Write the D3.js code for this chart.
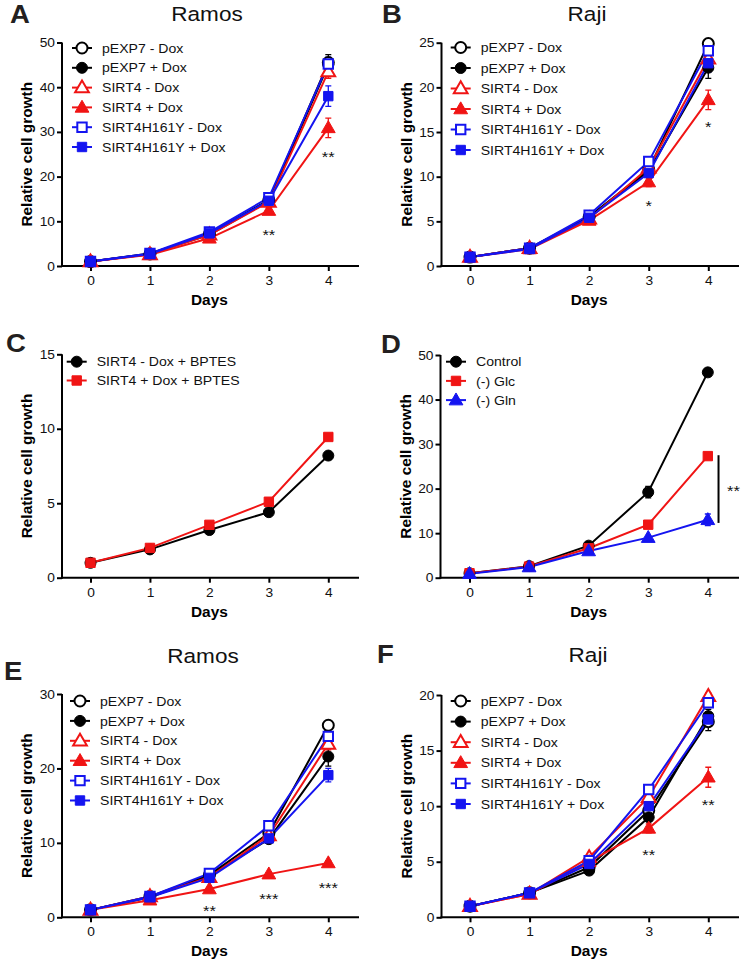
<!DOCTYPE html>
<html><head><meta charset="utf-8">
<script src="https://cdn.jsdelivr.net/npm/d3@7"></script>
<style>
html,body{margin:0;padding:0;background:#fff;}
svg{display:block;font-family:"Liberation Sans",Arial,Helvetica,sans-serif;}
</style></head>
<body>
<svg id="chart" width="741" height="965"></svg>
<script>
// ---------- DATA ----------
const days = [0, 1, 2, 3, 4];
const dayTicks = ["0", "1", "2", "3", "4"];
const seriesNames6 = ["pEXP7 - Dox", "pEXP7 + Dox", "SIRT4 - Dox", "SIRT4 + Dox", "SIRT4H161Y - Dox", "SIRT4H161Y + Dox"];

// Panel A (Ramos)
const A_pEXP7_minus = [1.0, 2.7, 7.2, 14.8, 45.5];
const A_pEXP7_plus  = [1.0, 2.8, 7.0, 14.5, 45.0];
const A_SIRT4_minus = [1.0, 2.6, 7.0, 14.3, 43.5];
const A_SIRT4_plus  = [1.0, 2.5, 6.2, 12.4, 30.9];
const A_H161Y_minus = [1.0, 2.8, 7.6, 15.3, 45.2];
const A_H161Y_plus  = [1.0, 2.7, 7.3, 14.6, 38.0];
const A_err = [[0.2,0.3,0.4,0.5,1.8],[0.2,0.3,0.4,0.5,1.5],[0.3,0.3,0.4,0.5,1.5],[0.2,0.3,0.5,0.6,2.2],[0.2,0.3,0.4,0.6,1.5],[0.2,0.3,0.4,0.5,2.3]];
const A_yTicks = [0, 10, 20, 30, 40, 50];
const A_stars = [{day: 3, y: 7.6, t: "**"}, {day: 4, y: 25.1, t: "**"}];

// Panel B (Raji)
const B_pEXP7_minus = [1.0, 2.0, 5.5, 10.8, 24.9];
const B_pEXP7_plus  = [1.0, 2.0, 5.5, 10.6, 22.2];
const B_SIRT4_minus = [1.0, 2.0, 5.3, 11.0, 23.2];
const B_SIRT4_plus  = [1.0, 1.9, 5.1, 9.4, 18.6];
const B_H161Y_minus = [1.0, 2.0, 5.7, 11.7, 24.1];
const B_H161Y_plus  = [1.0, 1.9, 5.4, 10.4, 22.7];
const B_err = [[0.1,0.1,0.2,0.3,0.2],[0.1,0.1,0.2,0.4,1.2],[0.2,0.1,0.2,0.3,0.5],[0.1,0.1,0.2,0.5,1.1],[0.1,0.1,0.2,0.3,0.4],[0.1,0.1,0.2,0.5,1.0]];
const B_yTicks = [0, 5, 10, 15, 20, 25];
const B_stars = [{day: 3, y: 7.05, t: "*"}, {day: 4, y: 15.9, t: "*"}];

// Panel C
const C_names = ["SIRT4 - Dox + BPTES", "SIRT4 + Dox + BPTES"];
const C_minus = [1.0, 1.9, 3.2, 4.4, 8.2];
const C_plus  = [1.0, 2.0, 3.55, 5.1, 9.45];
const C_err = [[0.05,0.05,0.08,0.1,0.1],[0.05,0.05,0.08,0.1,0.1]];
const C_yTicks = [0, 5, 10, 15];

// Panel D
const D_names = ["Control", "(-) Glc", "(-) Gln"];
const D_control = [1.0, 2.6, 7.2, 19.2, 46.1];
const D_glc     = [1.0, 2.5, 6.6, 11.9, 27.3];
const D_gln     = [0.9, 2.4, 6.0, 9.0, 13.0];
const D_err = [[0.2,0.2,0.4,1.3,0.5],[0.2,0.2,0.3,0.4,0.5],[0.1,0.2,0.3,0.3,1.3]];
const D_yTicks = [0, 10, 20, 30, 40, 50];
const D_bracket = {day: 4.18, y1: 12.3, y2: 27.5, starDay: 4.43, starY: 20.1, t: "**"};

// Panel E (Ramos)
const E_pEXP7_minus = [1.0, 2.8, 5.7, 11.3, 25.8];
const E_pEXP7_plus  = [1.0, 2.7, 5.6, 10.5, 21.6];
const E_SIRT4_minus = [1.0, 2.8, 5.4, 11.0, 23.3];
const E_SIRT4_plus  = [1.0, 2.3, 3.8, 5.8, 7.3];
const E_H161Y_minus = [1.0, 2.8, 5.9, 12.3, 24.3];
const E_H161Y_plus  = [1.0, 2.7, 5.3, 10.6, 19.1];
const E_err = [[0.1,0.2,0.2,0.4,0.3],[0.1,0.2,0.2,0.4,1.3],[0.2,0.2,0.3,0.4,0.8],[0.1,0.2,0.2,0.2,0.3],[0.1,0.2,0.3,0.4,1.3],[0.1,0.2,0.3,0.4,0.9]];
const E_yTicks = [0, 10, 20, 30];
const E_stars = [{day: 2, y: 1.3, t: "**"}, {day: 3, y: 2.9, t: "***"}, {day: 4, y: 4.35, t: "***"}];

// Panel F (Raji)
const F_pEXP7_minus = [1.0, 2.2, 4.5, 9.6, 17.6];
const F_pEXP7_plus  = [1.0, 2.2, 4.2, 9.0, 18.1];
const F_SIRT4_minus = [1.0, 2.1, 5.4, 10.8, 19.9];
const F_SIRT4_plus  = [1.0, 2.1, 5.0, 8.0, 12.6];
const F_H161Y_minus = [1.0, 2.2, 5.1, 11.5, 19.3];
const F_H161Y_plus  = [1.0, 2.2, 4.8, 10.0, 17.8];
const F_err = [[0.1,0.1,0.2,0.3,0.8],[0.1,0.1,0.2,0.3,0.6],[0.2,0.1,0.2,0.3,0.3],[0.1,0.1,0.2,0.4,0.9],[0.1,0.1,0.2,0.3,0.4],[0.1,0.1,0.2,0.6,0.5]];
const F_yTicks = [0, 5, 10, 15, 20];
const F_stars = [{day: 3, y: 5.9, t: "**"}, {day: 4, y: 10.4, t: "**"}];

// ---------- STYLE ----------
const BLACK = "#000000", RED = "#f01414", BLUE = "#1414f0";
const TEXT_STRETCH = 1.1;
const style6 = [
  {color: BLACK, shape: "circle", open: true},
  {color: BLACK, shape: "circle", open: false},
  {color: RED, shape: "triangle", open: true},
  {color: RED, shape: "triangle", open: false},
  {color: BLUE, shape: "square", open: true},
  {color: BLUE, shape: "square", open: false}
];
const styleC = [{color: BLACK, shape: "circle", open: false}, {color: RED, shape: "square", open: false}];
const styleD = [{color: BLACK, shape: "circle", open: false}, {color: RED, shape: "square", open: false}, {color: BLUE, shape: "triangle", open: false}];

function build(names, vals, errs, styles) {
  return names.map((n, i) => ({name: n, values: vals[i], err: errs[i], ...styles[i]}));
}

const panels = [
  {letter: "A", lx: 10, ly: 23, title: "Ramos", tx: 207, ty: 21,
   axX: 62, d0: 90.5, d4: 328.3, xEnd: 359, yBot: 266, yTop: 42.5, yMax: 50, yTicks: A_yTicks,
   series: build(seriesNames6, [A_pEXP7_minus, A_pEXP7_plus, A_SIRT4_minus, A_SIRT4_plus, A_H161Y_minus, A_H161Y_plus], A_err, style6),
   legX: 82, legY: 48, legStep: 19.8, stars: A_stars},
  {letter: "B", lx: 382, ly: 23, title: "Raji", tx: 587, ty: 21,
   axX: 441.5, d0: 470, d4: 708.3, xEnd: 739, yBot: 266, yTop: 42.7, yMax: 25, yTicks: B_yTicks,
   series: build(seriesNames6, [B_pEXP7_minus, B_pEXP7_plus, B_SIRT4_minus, B_SIRT4_plus, B_H161Y_minus, B_H161Y_plus], B_err, style6),
   legX: 460.7, legY: 47.5, legStep: 20.5, stars: B_stars},
  {letter: "C", lx: 6, ly: 352,
   axX: 62, d0: 90.5, d4: 328.3, xEnd: 359, yBot: 577.7, yTop: 354.3, yMax: 15, yTicks: C_yTicks,
   series: build(C_names, [C_minus, C_plus], C_err, styleC),
   legX: 76.7, legY: 361.7, legStep: 18.8, stars: []},
  {letter: "D", lx: 381, ly: 353,
   axX: 440.5, d0: 469.5, d4: 707.8, xEnd: 739, yBot: 577.7, yTop: 355, yMax: 50, yTicks: D_yTicks,
   series: build(D_names, [D_control, D_glc, D_gln], D_err, styleD),
   legX: 456, legY: 361.7, legStep: 19.2, stars: [], bracket: D_bracket},
  {letter: "E", lx: 4, ly: 680, title: "Ramos", tx: 203, ty: 663,
   axX: 62, d0: 90.5, d4: 328.3, xEnd: 359, yBot: 917.3, yTop: 694, yMax: 30, yTicks: E_yTicks,
   series: build(seriesNames6, [E_pEXP7_minus, E_pEXP7_plus, E_SIRT4_minus, E_SIRT4_plus, E_H161Y_minus, E_H161Y_plus], E_err, style6),
   legX: 80, legY: 701, legStep: 19.9, stars: E_stars},
  {letter: "F", lx: 377, ly: 663, title: "Raji", tx: 588, ty: 662,
   axX: 441.5, d0: 470, d4: 708.3, xEnd: 739, yBot: 917.3, yTop: 695, yMax: 20, yTicks: F_yTicks,
   series: build(seriesNames6, [F_pEXP7_minus, F_pEXP7_plus, F_SIRT4_minus, F_SIRT4_plus, F_H161Y_minus, F_H161Y_plus], F_err, style6),
   legX: 460.7, legY: 701, legStep: 20.6, stars: F_stars}
];

const svg = d3.select("#chart");

function symbolFor(shape) {
  if (shape === "circle") return d3.symbol(d3.symbolCircle, 95);
  if (shape === "triangle") return d3.symbol(d3.symbolTriangle, 82);
  return d3.symbol(d3.symbolSquare, 88);
}
function drawMarker(g, s, x, y) {
  const p = g.append("path").attr("d", symbolFor(s.shape)())
    .attr("transform", `translate(${x},${y + (s.shape === "triangle" ? 0.8 : 0)})`)
    .attr("stroke", s.color);
  if (s.open) p.attr("fill", "#fff").attr("stroke-width", 2);
  else p.attr("fill", s.color).attr("stroke-width", 1);
}

panels.forEach(P => {
  const g = svg.append("g");
  const xBase = d3.scaleLinear().domain([0, 4]).range([P.d0, P.d4]);
  const x = d3.scaleLinear().domain([xBase.invert(P.axX), xBase.invert(P.xEnd)]).range([P.axX, P.xEnd]);
  const y = d3.scaleLinear().domain([0, P.yMax]).range([P.yBot, P.yTop]);

  g.append("text").attr("x", P.lx).attr("y", P.ly).text(P.letter)
    .attr("font-size", 25).attr("font-weight", "bold").attr("fill", "#231f20");
  if (P.title) {
    g.append("text").attr("x", P.tx).attr("y", P.ty).attr("text-anchor", "middle")
      .attr("font-size", 20.5).text(P.title).attr("fill", "#111");
  }

  const xa = g.append("g").attr("transform", `translate(0,${P.yBot})`)
    .call(d3.axisBottom(x).tickValues(days).tickFormat((d, i) => dayTicks[i]).tickSize(5).tickSizeOuter(0).tickPadding(5));
  const ya = g.append("g").attr("transform", `translate(${P.axX},0)`)
    .call(d3.axisLeft(y).tickValues(P.yTicks).tickFormat(d3.format("d")).tickSize(5).tickSizeOuter(0).tickPadding(2));
  [xa, ya].forEach(a => {
    a.select(".domain").attr("stroke", "#000").attr("stroke-width", 2);
    a.selectAll(".tick line").attr("stroke", "#000").attr("stroke-width", 2);
    a.selectAll(".tick text").attr("font-size", 12.5).attr("fill", "#111")
      .attr("font-family", "'Liberation Sans',Arial,sans-serif");
  });
  ya.select(".domain").attr("d", `M0,${P.yBot + 1}V${P.yTop}`);
  xa.select(".domain").attr("d", `M${P.axX - 1},0H${P.xEnd}`);

  g.append("text").attr("x", xBase(2)).attr("y", P.yBot + 39).attr("text-anchor", "middle")
    .attr("font-size", 14).attr("font-weight", "bold").text("Days");
  g.append("text")
    .attr("transform", `translate(${P.axX - 30},${(P.yBot + P.yTop) / 2}) rotate(-90)`)
    .attr("text-anchor", "middle").attr("font-size", 14).attr("font-weight", "bold")
    .text("Relative cell growth");

  const line = d3.line().x((d, i) => xBase(days[i])).y(d => y(d));
  P.series.forEach(s => {
    g.append("path").datum(s.values).attr("d", line).attr("fill", "none")
      .attr("stroke", s.color).attr("stroke-width", 2);
  });
  P.series.forEach(s => {
    s.values.forEach((v, i) => {
      const e = s.err[i];
      const cx = xBase(days[i]);
      const y1 = y(v - e), y2 = y(v + e);
      if (Math.abs(y1 - y2) > 1) {
        g.append("path").attr("d", `M${cx},${y1}V${y2}M${cx - 3},${y1}H${cx + 3}M${cx - 3},${y2}H${cx + 3}`)
          .attr("stroke", s.color).attr("stroke-width", 1.3).attr("fill", "none");
      }
    });
  });
  P.series.forEach(s => {
    s.values.forEach((v, i) => drawMarker(g, s, xBase(days[i]), y(v)));
  });

  P.series.forEach((s, i) => {
    const ly = P.legY + i * P.legStep;
    g.append("line").attr("x1", P.legX - 10).attr("x2", P.legX + 10).attr("y1", ly).attr("y2", ly)
      .attr("stroke", s.color).attr("stroke-width", 2);
    drawMarker(g, s, P.legX, ly);
    g.append("text").attr("x", P.legX + 20).attr("y", ly).attr("dy", "0.36em")
      .attr("font-size", 12.8).attr("fill", "#111").text(s.name);
  });

  P.stars.forEach(st => {
    g.append("text").attr("x", xBase(st.day)).attr("y", y(st.y) + 8).attr("text-anchor", "middle")
      .attr("font-size", 15).attr("fill", "#111").text(st.t);
  });
  if (P.bracket) {
    const b = P.bracket;
    g.append("line").attr("x1", xBase(b.day)).attr("x2", xBase(b.day))
      .attr("y1", y(b.y1)).attr("y2", y(b.y2)).attr("stroke", "#000").attr("stroke-width", 2);
    g.append("text").attr("x", xBase(b.starDay)).attr("y", y(b.starY) + 8).attr("text-anchor", "middle")
      .attr("font-size", 15).attr("fill", "#111").text(b.t);
  }
});

// the reference typeface is slightly wider than Arial: stretch glyphs horizontally
svg.selectAll("text").each(function () {
  const L = this.getComputedTextLength();
  if (L > 0) d3.select(this).attr("textLength", L * TEXT_STRETCH).attr("lengthAdjust", "spacingAndGlyphs");
});
</script>
</body></html>
